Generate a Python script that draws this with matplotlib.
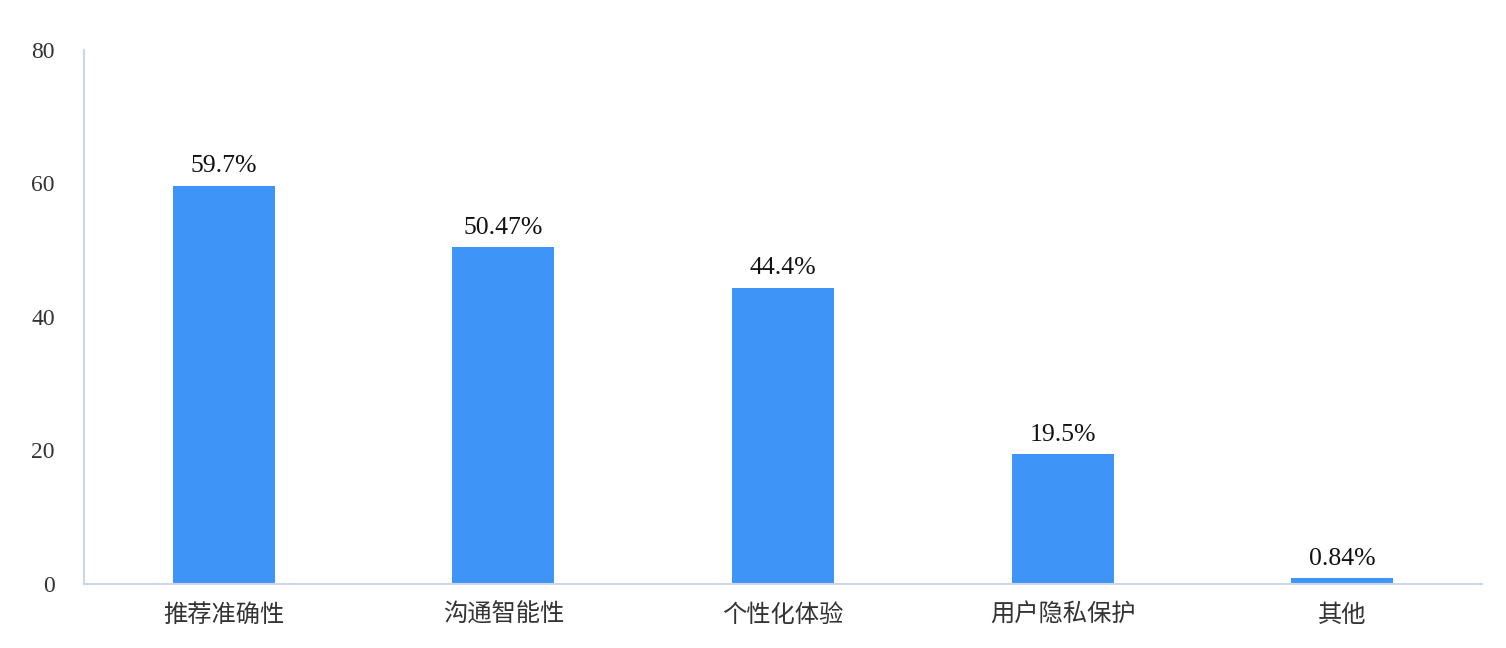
import matplotlib
matplotlib.use("Agg")
import matplotlib.pyplot as plt

# Survey categories and their shares (%)
categories = ["推荐准确性", "沟通智能性", "个性化体验", "用户隐私保护", "其他"]
values = [59.7, 50.47, 44.4, 19.5, 0.84]
value_labels = ["59.7%", "50.47%", "44.4%", "19.5%", "0.84%"]
yticks = [0, 20, 40, 60, 80]

plt.rcParams["font.family"] = ["Liberation Serif", "Noto Sans CJK SC", "DejaVu Sans"]

fig = plt.figure(figsize=(15.06, 6.48), dpi=100)
ax = fig.add_axes([84 / 1506, 1 - 584 / 648, (1482 - 84) / 1506, (584 - 50) / 648])

x = list(range(len(categories)))
bars = ax.bar(x, values, width=0.365, color="#3F95F7")

# Value labels above each bar
for rect, label in zip(bars, value_labels):
    ax.annotate(
        label,
        (rect.get_x() + rect.get_width() / 2, rect.get_height()),
        xytext=(0, 6),
        textcoords="offset points",
        ha="center",
        va="bottom",
        fontsize=18.5,
        color="#111111",
    )

ax.set_xlim(-0.5, len(categories) - 0.5)
ax.set_ylim(0, 80)
ax.set_yticks(yticks)
ax.set_xticks(x)
ax.set_xticklabels(categories, family=["Noto Sans CJK SC", "DejaVu Sans"])

ax.tick_params(axis="y", length=0, pad=21, labelsize=17, labelcolor="#333333")
ax.tick_params(axis="x", length=0, pad=13, labelsize=17.5, labelcolor="#333333")

for side in ["top", "right"]:
    ax.spines[side].set_visible(False)
for side in ["left", "bottom"]:
    ax.spines[side].set_color("#CCD6EB")
    ax.spines[side].set_linewidth(1.5)

fig.savefig("out.png", dpi=100)
